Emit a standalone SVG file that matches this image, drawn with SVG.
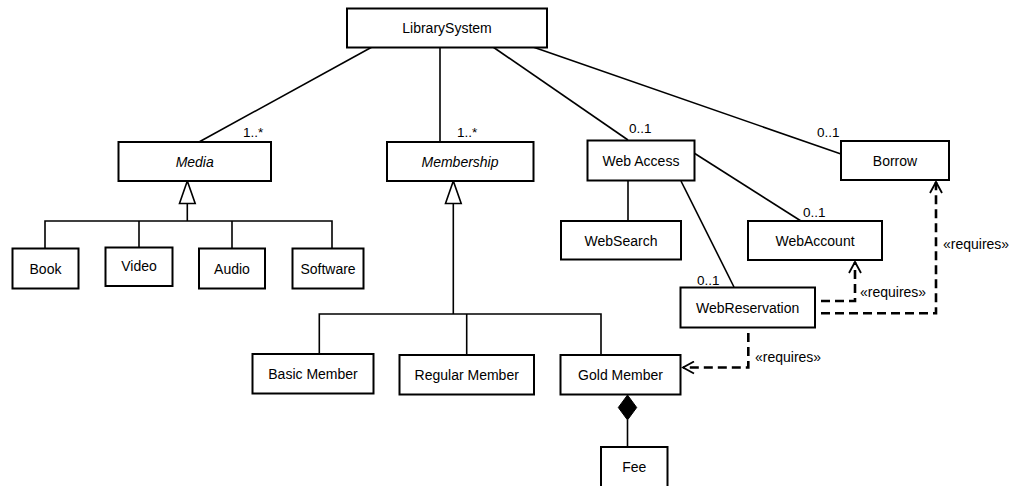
<svg xmlns="http://www.w3.org/2000/svg" width="1009" height="486" viewBox="0 0 1009 486">
<style>
.box{fill:#fff;stroke:#000;stroke-width:2}
.t{font-family:"Liberation Sans",Arial,sans-serif;font-size:14px;fill:#000;text-anchor:middle;dominant-baseline:central}
.i{font-style:italic}
.m{font-family:"Liberation Sans",Arial,sans-serif;font-size:13.5px;fill:#000}
.r{font-family:"Liberation Sans",Arial,sans-serif;font-size:14px;fill:#000}
.ln{fill:none;stroke:#000;stroke-width:1.6}
.dash{fill:none;stroke:#000;stroke-width:2.6;stroke-dasharray:9,5}
</style>
<defs>
<marker id="open" markerWidth="14" markerHeight="14" refX="12" refY="7" orient="auto" markerUnits="userSpaceOnUse">
<path d="M1,1 L12,7 L1,13" fill="none" stroke="#000" stroke-width="1.8"/>
</marker>
</defs>
<g id="connectors">
<line class="ln" x1="372" y1="47" x2="199" y2="142"/>
<line class="ln" x1="440" y1="47" x2="440" y2="142"/>
<line class="ln" x1="493" y1="47" x2="628" y2="140"/>
<line class="ln" x1="533" y1="47" x2="841" y2="154"/>
<line class="ln" x1="628" y1="181" x2="628" y2="221"/>
<line class="ln" x1="694" y1="153" x2="801" y2="221"/>
<line class="ln" x1="681" y1="181" x2="734" y2="287"/>
<polygon points="187.3,181 179.5,203.5 195.2,203.5" fill="#fff" stroke="#000" stroke-width="1.6"/>
<line class="ln" x1="187.3" y1="203.5" x2="187.3" y2="221"/>
<polyline class="ln" points="45,248 45,221 332,221 332,248"/>
<line class="ln" x1="139" y1="221" x2="139" y2="247"/>
<line class="ln" x1="232" y1="221" x2="232" y2="248"/>
<polygon points="453.3,181 445.5,203.5 461.2,203.5" fill="#fff" stroke="#000" stroke-width="1.6"/>
<line class="ln" x1="453.3" y1="203.5" x2="453.3" y2="314"/>
<polyline class="ln" points="319.3,354 319.3,314 601,314 601,355"/>
<line class="ln" x1="466.7" y1="314" x2="466.7" y2="355"/>
<polygon points="627.5,395 636.7,407.5 627.5,420 618.3,407.5" fill="#000" stroke="#000" stroke-width="1"/>
<line class="ln" x1="627.5" y1="420" x2="627.5" y2="447"/>
<polyline class="dash" points="821,301 855,301 855,262" marker-end="url(#open)"/>
<polyline class="dash" points="821,313.3 936,313.3 936,182" marker-end="url(#open)"/>
<polyline class="dash" points="748.3,333 748.3,367.5 683,367.5" marker-end="url(#open)"/>
<text class="m" x="243" y="137">1..*</text>
<text class="m" x="457" y="137">1..*</text>
<text class="m" x="629" y="133">0..1</text>
<text class="m" x="817" y="137">0..1</text>
<text class="m" x="803" y="217">0..1</text>
<text class="m" x="697" y="285">0..1</text>
<text class="r" x="860" y="297">«requires»</text>
<text class="r" x="943" y="249">«requires»</text>
<text class="r" x="755" y="362">«requires»</text>
</g>
<g id="LibrarySystem"><rect class="box" x="347" y="8.5" width="200" height="39"/><text class="t" x="447" y="28">LibrarySystem</text></g>
<g id="Media"><rect class="box" x="118.5" y="142" width="152.5" height="39"/><text class="t i" x="194.7" y="161.5">Media</text></g>
<g id="Membership"><rect class="box" x="387" y="142" width="146.5" height="39"/><text class="t i" x="460" y="161.5">Membership</text></g>
<g id="WebAccess"><rect class="box" x="587.5" y="140.5" width="107" height="40"/><text class="t" x="641" y="160.5">Web Access</text></g>
<g id="Borrow"><rect class="box" x="841" y="141" width="108" height="39"/><text class="t" x="895" y="160.5">Borrow</text></g>
<g id="Book"><rect class="box" x="12.5" y="248.5" width="66" height="40"/><text class="t" x="45.5" y="268.5">Book</text></g>
<g id="Video"><rect class="box" x="105.5" y="247.5" width="67" height="38.5"/><text class="t" x="139" y="265.5">Video</text></g>
<g id="Audio"><rect class="box" x="199" y="248.5" width="66" height="40"/><text class="t" x="232" y="268.5">Audio</text></g>
<g id="Software"><rect class="box" x="292.5" y="248.5" width="71" height="40"/><text class="t" x="328" y="268.5">Software</text></g>
<g id="WebSearch"><rect class="box" x="561" y="221" width="120" height="38.5"/><text class="t" x="621" y="240.5">WebSearch</text></g>
<g id="WebAccount"><rect class="box" x="748" y="221" width="134" height="39"/><text class="t" x="815" y="240.5">WebAccount</text></g>
<g id="WebReservation"><rect class="box" x="680.5" y="287.5" width="134.5" height="40"/><text class="t" x="747.7" y="307.5">WebReservation</text></g>
<g id="BasicMember"><rect class="box" x="252.5" y="354" width="121" height="39.5"/><text class="t" x="313" y="373.5">Basic Member</text></g>
<g id="RegularMember"><rect class="box" x="399.5" y="355" width="134.5" height="39.5"/><text class="t" x="466.7" y="374.5">Regular Member</text></g>
<g id="GoldMember"><rect class="box" x="560.5" y="355" width="120" height="39.5"/><text class="t" x="620.5" y="374.5">Gold Member</text></g>
<g id="Fee"><rect class="box" x="601" y="447" width="66.5" height="40"/><text class="t" x="634.2" y="467">Fee</text></g>
</svg>
